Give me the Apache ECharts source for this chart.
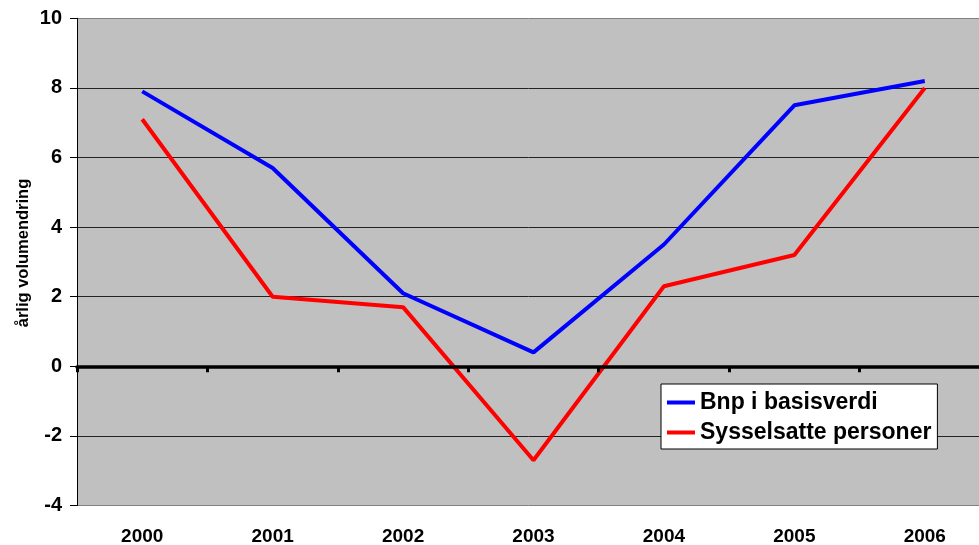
<!DOCTYPE html>
<html>
<head>
<meta charset="utf-8">
<style>
  html, body { margin: 0; padding: 0; background: #fff; }
  #chart { width: 979px; height: 545px; }
</style>
<script src="https://cdn.jsdelivr.net/npm/echarts@6/dist/echarts.min.js"></script>
</head>
<body>
<div id="chart"></div>
<script>
// Annual volume change, GDP at basic value vs. employed persons
const years = ['2000', '2001', '2002', '2003', '2004', '2005', '2006'];
const bnpValues = [7.9, 5.7, 2.1, 0.4, 3.5, 7.5, 8.2];
const sysselsatteValues = [7.1, 2.0, 1.7, -2.7, 2.3, 3.2, 8.0];
const seriesNames = ['Bnp i basisverdi', 'Sysselsatte personer'];
const yAxisTitle = 'årlig volumendring';

const FONT = 'Arial, "Liberation Sans", sans-serif';

const chart = echarts.init(document.getElementById('chart'), null, { renderer: 'canvas' });

chart.setOption({
  animation: false,
  backgroundColor: '#ffffff',
  grid: {
    left: 77,
    top: 18.3,
    width: 913,
    height: 487.2,
    outerBoundsMode: 'none',
    containLabel: false,
    show: true,
    backgroundColor: '#C0C0C0',
    borderWidth: 0
  },
  xAxis: [
    {
      // heavy zero line with category boundary ticks
      type: 'category',
      data: years,
      boundaryGap: true,
      position: 'bottom',
      axisLine: { show: true, onZero: true, lineStyle: { color: '#000', width: 3.5 } },
      axisTick: { show: true, inside: false, length: 6, lineStyle: { color: '#000', width: 3 } },
      axisLabel: { show: false },
      splitLine: { show: false },
      z: 4
    },
    {
      // category labels along the bottom
      type: 'category',
      data: years,
      boundaryGap: true,
      position: 'bottom',
      axisLine: { show: false, onZero: false },
      axisTick: { show: false },
      splitLine: { show: false },
      axisLabel: {
        margin: 22,
        fontFamily: FONT,
        fontWeight: 'bold',
        fontSize: 19,
        color: '#000'
      }
    }
  ],
  yAxis: {
    type: 'value',
    min: -4,
    max: 10,
    interval: 2,
    axisLine: { show: true, onZero: false, lineStyle: { color: '#000', width: 1 } },
    axisTick: { show: true, inside: false, length: 7, lineStyle: { color: '#000', width: 1 } },
    axisLabel: {
      margin: 15,
      fontFamily: FONT,
      fontWeight: 'bold',
      fontSize: 20,
      color: '#000'
    },
    splitLine: {
      show: true,
      lineStyle: {
        color: ['#808080', '#222', '#222', '#222', '#222', '#222', '#222', '#808080'],
        width: 1
      }
    }
  },
  legend: {
    orient: 'vertical',
    left: 661,
    top: 384,
    backgroundColor: '#ffffff',
    borderColor: '#000',
    borderWidth: 1,
    padding: [7, 6, 5, 6],
    itemGap: 7,
    itemWidth: 28,
    itemHeight: 4,
    itemStyle: { borderWidth: 0 },
    icon: 'rect',
    textStyle: {
      fontFamily: FONT,
      fontWeight: 'bold',
      fontSize: 23,
      lineHeight: 23,
      color: '#000'
    },
    data: seriesNames
  },
  graphic: [
    {
      type: 'text',
      x: 23,
      y: 253,
      rotation: Math.PI / 2,
      style: {
        text: yAxisTitle,
        fontFamily: FONT,
        fontWeight: 'bold',
        fontSize: 16.5,
        fill: '#000',
        align: 'center',
        verticalAlign: 'middle'
      }
    }
  ],
  series: [
    {
      name: seriesNames[0],
      type: 'line',
      xAxisIndex: 0,
      data: bnpValues,
      symbol: 'none',
      color: '#0000FF',
      lineStyle: { color: '#0000FF', width: 4 },
      z: 3
    },
    {
      name: seriesNames[1],
      type: 'line',
      xAxisIndex: 0,
      data: sysselsatteValues,
      symbol: 'none',
      color: '#FF0000',
      lineStyle: { color: '#FF0000', width: 4 },
      z: 3
    }
  ]
});
</script>
</body>
</html>
